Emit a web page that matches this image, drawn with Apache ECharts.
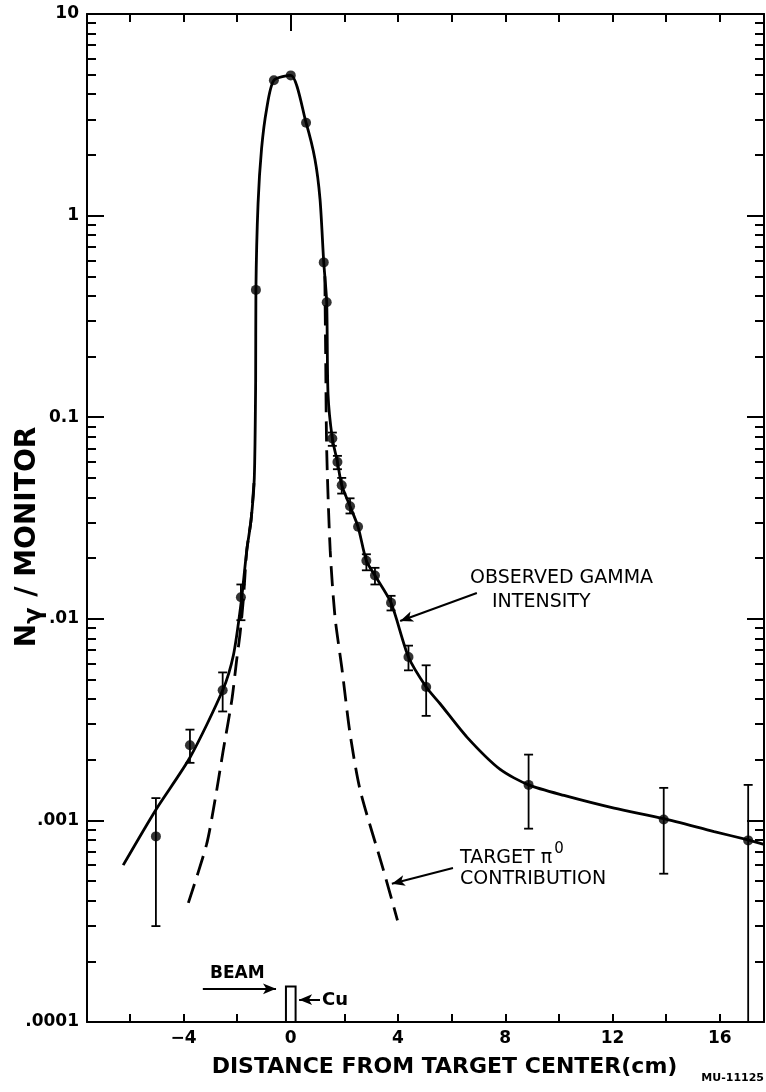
<!DOCTYPE html>
<html><head><meta charset="utf-8">
<script src="https://cdn.jsdelivr.net/npm/echarts@6/dist/echarts.min.js"></script>
<style>html,body{margin:0;padding:0;background:#fff}#c{width:766px;height:1092px}</style>
</head><body><div id="c"></div>
<script>
// ---- data ----
const pointX = [-5.03, -3.76, -2.54, -1.86, -1.30, -0.63, 0.0, 0.57, 1.23, 1.34, 1.55, 1.74, 1.90, 2.21, 2.51, 2.82, 3.14, 3.74, 4.39, 5.05, 8.87, 13.91, 17.06];
const pointY = [0.000833, 0.00236, 0.00442, 0.0128, 0.428, 4.69, 4.96, 2.89, 0.586, 0.372, 0.0784, 0.060, 0.046, 0.0362, 0.0286, 0.0194, 0.0164, 0.0120, 0.00646, 0.00459, 0.00150, 0.00101, 0.000796];

const errX    = [-5.03, -3.76, -2.54, -1.86, 1.55, 1.74, 1.90, 2.21, 2.82, 3.14, 3.74, 4.39, 5.05, 8.87, 13.91, 17.06];
const errLow  = [0.000299, 0.00193, 0.00347, 0.00984, 0.0721, 0.0552, 0.0418, 0.0333, 0.0174, 0.0148, 0.0110, 0.00555, 0.0033, 0.00091, 0.000544, 0.0001];
const errHigh = [0.00129, 0.00282, 0.00542, 0.0148, 0.0839, 0.0643, 0.050, 0.0396, 0.0209, 0.0179, 0.0130, 0.00736, 0.00588, 0.00212, 0.00145, 0.0015];

const observedX = [-6.25, -5.03, -3.76, -2.54, -2.14, -1.86, -1.64, -1.48, -1.36, -1.31, -1.30, -1.22, -1.09, -0.90, -0.63, 0.0, 0.57, 0.90, 1.09, 1.23, 1.34, 1.39, 1.55, 1.74, 1.90, 2.21, 2.51, 2.82, 3.14, 3.74, 4.39, 5.05, 5.57, 6.57, 7.81, 8.87, 10.19, 12.06, 13.91, 15.79, 17.06, 17.65];
const observedY = [0.0006, 0.00113, 0.00205, 0.00442, 0.0066, 0.0118, 0.0219, 0.031, 0.05, 0.15, 0.428, 1.15, 2.14, 3.38, 4.69, 4.96, 2.89, 1.91, 1.21, 0.586, 0.372, 0.13, 0.0784, 0.060, 0.046, 0.0362, 0.0286, 0.0194, 0.0164, 0.0120, 0.00646, 0.00459, 0.00379, 0.00259, 0.00179, 0.0015, 0.00133, 0.00115, 0.00102, 0.00088, 0.0008, 0.00076];

const pi0LeftX  = [-3.82, -3.14, -2.83, -2.52, -2.20, -2.02, -1.89, -1.77, -1.64, -1.48, -1.36];
const pi0LeftY  = [0.00039, 0.00076, 0.00125, 0.00222, 0.00394, 0.00622, 0.00847, 0.0124, 0.0219, 0.031, 0.05];
const pi0RightX = [1.27, 1.30, 1.34, 1.47, 1.65, 1.90, 2.21, 2.59, 3.46, 3.98];
const pi0RightY = [0.5, 0.215, 0.0686, 0.0219, 0.0102, 0.00577, 0.0027, 0.00141, 0.000565, 0.000319];

const xTickValues  = [-6, -4, -2, 0, 2, 4, 6, 8, 10, 12, 14, 16];
const xTopTicks    = [-6, -4, -2, 2, 4, 6, 8, 10, 12, 14, 16];
const xLabelValues = [-4, 0, 4, 8, 12, 16];
const yMajorLabels = {'-4': '.0001', '-3': '.001', '-2': '.01', '-1': '0.1', '0': '1', '1': '10'};
const yMinorValues = [0.0002, 0.0003, 0.0004, 0.0005, 0.0006, 0.0007, 0.0008, 0.0009,
  0.002, 0.003, 0.004, 0.005, 0.006, 0.007, 0.008, 0.009,
  0.02, 0.03, 0.04, 0.05, 0.06, 0.07, 0.08, 0.09,
  0.2, 0.3, 0.4, 0.5, 0.6, 0.7, 0.8, 0.9,
  2, 3, 4, 5, 6, 7, 8, 9];

// annotation anchors (data units)
const cuBox = [[-0.18, 0.0001], [0.18, 0.00015]];
const arrows = [
  [[6.94, 0.01343], [4.08, 0.00975]],
  [[6.05, 0.00058], [3.77, 0.000485]],
  [[-3.28, 0.000146], [-0.55, 0.000146]],
  [[1.09, 0.000129], [0.31, 0.000129]]
];

const zip = (a, b) => a.map((v, i) => [v, b[i]]);
const FONT = 'DejaVu Sans';
const X_MIN = -7.6, X_MAX = 17.65, Y_MIN = 0.0001, Y_MAX = 10;

const chart = echarts.init(document.getElementById('c'), null, {renderer: 'canvas'});

const baseX = {type: 'value', min: X_MIN, max: X_MAX, splitLine: {show: false}, axisLine: {onZero: false, lineStyle: {color: '#000', width: 2}}};
const baseY = {type: 'log', logBase: 10, min: Y_MIN, max: Y_MAX, splitLine: {show: false}, axisLine: {onZero: false, lineStyle: {color: '#000', width: 2}}};
const lineCommon = {smooth: 0.25, symbol: 'none', silent: true, z: 3};

const option = {
  animation: false,
  backgroundColor: '#fff',
  grid: {left: 87, right: 2, top: 14, bottom: 70, containLabel: false},
  xAxis: [
    Object.assign({}, baseX, {position: 'bottom',
      axisTick: {inside: true, length: 8, customValues: xTickValues, lineStyle: {color: '#000', width: 2}},
      axisLabel: {customValues: xLabelValues, color: '#000', fontFamily: FONT, fontWeight: 'bold', fontSize: 17, margin: 8,
        formatter: v => String(v).replace('-', '\u2212')}}),
    Object.assign({}, baseX, {position: 'top',
      axisTick: {inside: true, length: 8, customValues: xTopTicks, lineStyle: {color: '#000', width: 2}},
      axisLabel: {show: false}}),
    Object.assign({}, baseX, {position: 'top', axisLine: {show: false, onZero: false},
      axisTick: {inside: true, length: 17, customValues: [0], lineStyle: {color: '#000', width: 2}},
      axisLabel: {show: false}})
  ],
  yAxis: [
    Object.assign({}, baseY, {position: 'left',
      axisTick: {inside: true, length: 17, lineStyle: {color: '#000', width: 2}},
      axisLabel: {color: '#000', fontFamily: FONT, fontWeight: 'bold', fontSize: 17, margin: 8,
        formatter: v => yMajorLabels[String(Math.round(Math.log10(v)))] || ''}}),
    Object.assign({}, baseY, {position: 'left', axisLine: {show: false, onZero: false},
      axisTick: {inside: true, length: 9, customValues: yMinorValues, lineStyle: {color: '#000', width: 2}},
      axisLabel: {show: false}}),
    Object.assign({}, baseY, {position: 'right',
      axisTick: {inside: true, length: 17, lineStyle: {color: '#000', width: 2}},
      axisLabel: {show: false}}),
    Object.assign({}, baseY, {position: 'right', axisLine: {show: false, onZero: false},
      axisTick: {inside: true, length: 9, customValues: yMinorValues, lineStyle: {color: '#000', width: 2}},
      axisLabel: {show: false}})
  ],
  series: [
    Object.assign({type: 'line', name: 'observed', data: zip(observedX, observedY),
      lineStyle: {color: '#000', width: 2.8}}, lineCommon),
    Object.assign({type: 'line', name: 'pi0L', data: zip(pi0LeftX, pi0LeftY),
      lineStyle: {color: '#000', width: 2.8, type: [20, 9]}}, lineCommon),
    Object.assign({type: 'line', name: 'pi0R', data: zip(pi0RightX, pi0RightY),
      lineStyle: {color: '#000', width: 2.8, type: [20, 9]}}, lineCommon),
    {type: 'custom', name: 'err', data: errX.map((x, i) => [x, errLow[i], errHigh[i]]),
      encode: {x: 0, y: [1, 2]}, z: 4, silent: true,
      renderItem: (params, api) => {
        const x = api.value(0);
        const lo = api.coord([x, api.value(1)]);
        const hi = api.coord([x, api.value(2)]);
        const w = 4.5, st = {stroke: '#000', lineWidth: 1.8};
        return {type: 'group', children: [
          {type: 'line', shape: {x1: lo[0], y1: lo[1], x2: hi[0], y2: hi[1]}, style: st},
          {type: 'line', shape: {x1: lo[0] - w, y1: lo[1], x2: lo[0] + w, y2: lo[1]}, style: st},
          {type: 'line', shape: {x1: hi[0] - w, y1: hi[1], x2: hi[0] + w, y2: hi[1]}, style: st}
        ]};
      }},
    {type: 'scatter', name: 'points', data: zip(pointX, pointY), symbol: 'circle', symbolSize: 10,
      itemStyle: {color: '#000'}, z: 5, silent: true,
      markLine: {silent: true, symbol: ['none', 'arrow'], symbolSize: [8, 13], label: {show: false},
        lineStyle: {color: '#000', width: 2, type: 'solid'},
        data: arrows.map(a => [{coord: a[0]}, {coord: a[1]}])},
      markArea: {silent: true, label: {show: false},
        itemStyle: {color: '#fff', borderColor: '#000', borderWidth: 2},
        data: [[{coord: cuBox[0]}, {coord: cuBox[1]}]]}}
  ],
  graphic: [
    {type: 'text', x: 444.5, y: 1067, style: {text: 'DISTANCE FROM TARGET CENTER(cm)', font: 'bold 22px ' + FONT, fill: '#000', align: 'center', verticalAlign: 'middle', textAlign: 'center', textVerticalAlign: 'middle'}},
    {type: 'text', x: 30, y: 537, rotation: Math.PI / 2,
      style: {text: '{a|N}{b|\u03b3}{a| / MONITOR}', fill: '#000', align: 'center', verticalAlign: 'middle', textAlign: 'center', textVerticalAlign: 'middle',
        rich: {a: {fontFamily: FONT, fontWeight: 'bold', fontSize: 28, verticalAlign: 'top', fill: '#000'}, b: {fontFamily: FONT, fontWeight: 'bold', fontSize: 24, verticalAlign: 'top', padding: [9, 1, 0, 0], fill: '#000'}}}},
    {type: 'text', x: 470, y: 578, style: {text: 'OBSERVED GAMMA', font: '19px ' + FONT, fill: '#000', align: 'left', verticalAlign: 'middle', textAlign: 'left', textVerticalAlign: 'middle'}},
    {type: 'text', x: 492, y: 602, style: {text: 'INTENSITY', font: '19px ' + FONT, fill: '#000', align: 'left', verticalAlign: 'middle', textAlign: 'left', textVerticalAlign: 'middle'}},
    {type: 'text', x: 460, y: 855, style: {text: '{t|TARGET \u03c0}{s|0}', fill: '#000', align: 'left', verticalAlign: 'middle', textAlign: 'left', textVerticalAlign: 'middle',
      rich: {t: {fontFamily: FONT, fontSize: 19, verticalAlign: 'top', padding: [7, 0, 0, 0], fill: '#000'}, s: {fontFamily: FONT, fontSize: 15, verticalAlign: 'top', padding: [0, 0, 0, 2], fill: '#000'}}}},
    {type: 'text', x: 460, y: 879, style: {text: 'CONTRIBUTION', font: '19px ' + FONT, fill: '#000', align: 'left', verticalAlign: 'middle', textAlign: 'left', textVerticalAlign: 'middle'}},
    {type: 'text', x: 210, y: 974, style: {text: 'BEAM', font: 'bold 17px ' + FONT, fill: '#000', align: 'left', verticalAlign: 'middle', textAlign: 'left', textVerticalAlign: 'middle'}},
    {type: 'text', x: 322, y: 1000, style: {text: 'Cu', font: 'bold 18px ' + FONT, fill: '#000', align: 'left', verticalAlign: 'middle', textAlign: 'left', textVerticalAlign: 'middle'}},
    {type: 'text', x: 764, y: 1078, style: {text: 'MU-11125', font: 'bold 11px ' + FONT, fill: '#000', align: 'right', verticalAlign: 'middle', textAlign: 'right', textVerticalAlign: 'middle'}}
  ]
};
chart.setOption(option);
</script>
</body></html>
